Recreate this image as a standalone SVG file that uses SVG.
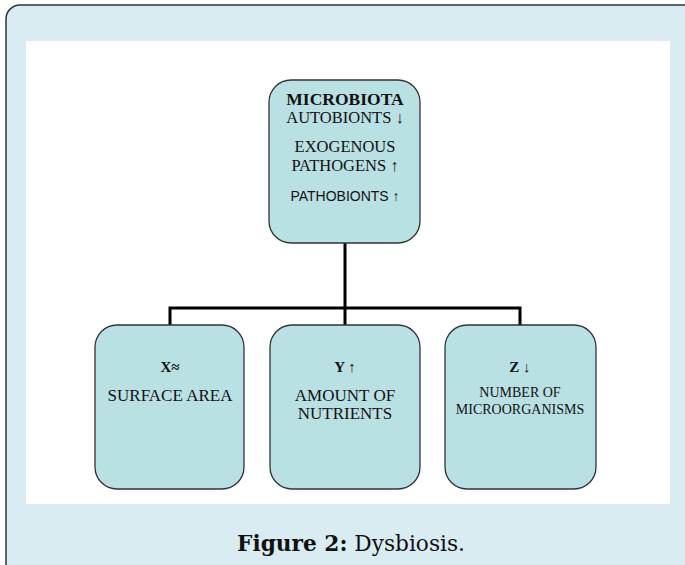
<svg xmlns="http://www.w3.org/2000/svg" width="685" height="565" viewBox="0 0 685 565">
<style>
.node rect{fill:#b9e0e3;stroke:#333;stroke-width:1.3}
.t{font-family:"Liberation Serif",serif;fill:#111;text-anchor:middle}
.s{font-family:"Liberation Sans",sans-serif;fill:#111;text-anchor:middle}
.b{font-weight:bold}
.conn{stroke:#000;stroke-width:3;fill:none}
</style>
<rect x="6" y="5" width="700" height="580" rx="14" fill="#d8ecf1" stroke="#333" stroke-width="1.5"/>
<rect x="26" y="41" width="644" height="463" fill="#fff"/>
<g id="connectors">
<path class="conn" d="M345 243V308M170 325V308H520V325M345 308V325"/>
</g>
<g id="microbiota" class="node">
<rect x="269" y="80" width="151" height="163" rx="22"/>
<text class="t b" x="345" y="105" font-size="17.5">MICROBIOTA</text>
<text class="t" x="345" y="123" font-size="16.5">AUTOBIONTS ↓</text>
<text class="t" x="345" y="152" font-size="16.5">EXOGENOUS</text>
<text class="t" x="345" y="171" font-size="16.5">PATHOGENS ↑</text>
<text class="s" x="345" y="201" font-size="14">PATHOBIONTS ↑</text>
</g>
<g id="x" class="node">
<rect x="95" y="325" width="149" height="164" rx="22"/>
<text class="t b" x="170" y="372" font-size="15">X≈</text>
<text class="t" x="170" y="401" font-size="17">SURFACE AREA</text>
</g>
<g id="y" class="node">
<rect x="270" y="325" width="150" height="164" rx="22"/>
<text class="t b" x="345" y="372" font-size="15">Y ↑</text>
<text class="t" x="345" y="401" font-size="17">AMOUNT OF</text>
<text class="t" x="345" y="419" font-size="17">NUTRIENTS</text>
</g>
<g id="z" class="node">
<rect x="445" y="325" width="151" height="164" rx="22"/>
<text class="t b" x="520" y="372" font-size="15">Z ↓</text>
<text class="t" x="520" y="397" font-size="14">NUMBER OF</text>
<text class="t" x="520" y="414" font-size="14">MICROORGANISMS</text>
</g>
<text x="351" y="551" font-family="'DejaVu Serif',serif" font-size="21.5" text-anchor="middle" fill="#111" textLength="228" lengthAdjust="spacingAndGlyphs"><tspan font-weight="bold">Figure 2:</tspan> Dysbiosis.</text>
</svg>
